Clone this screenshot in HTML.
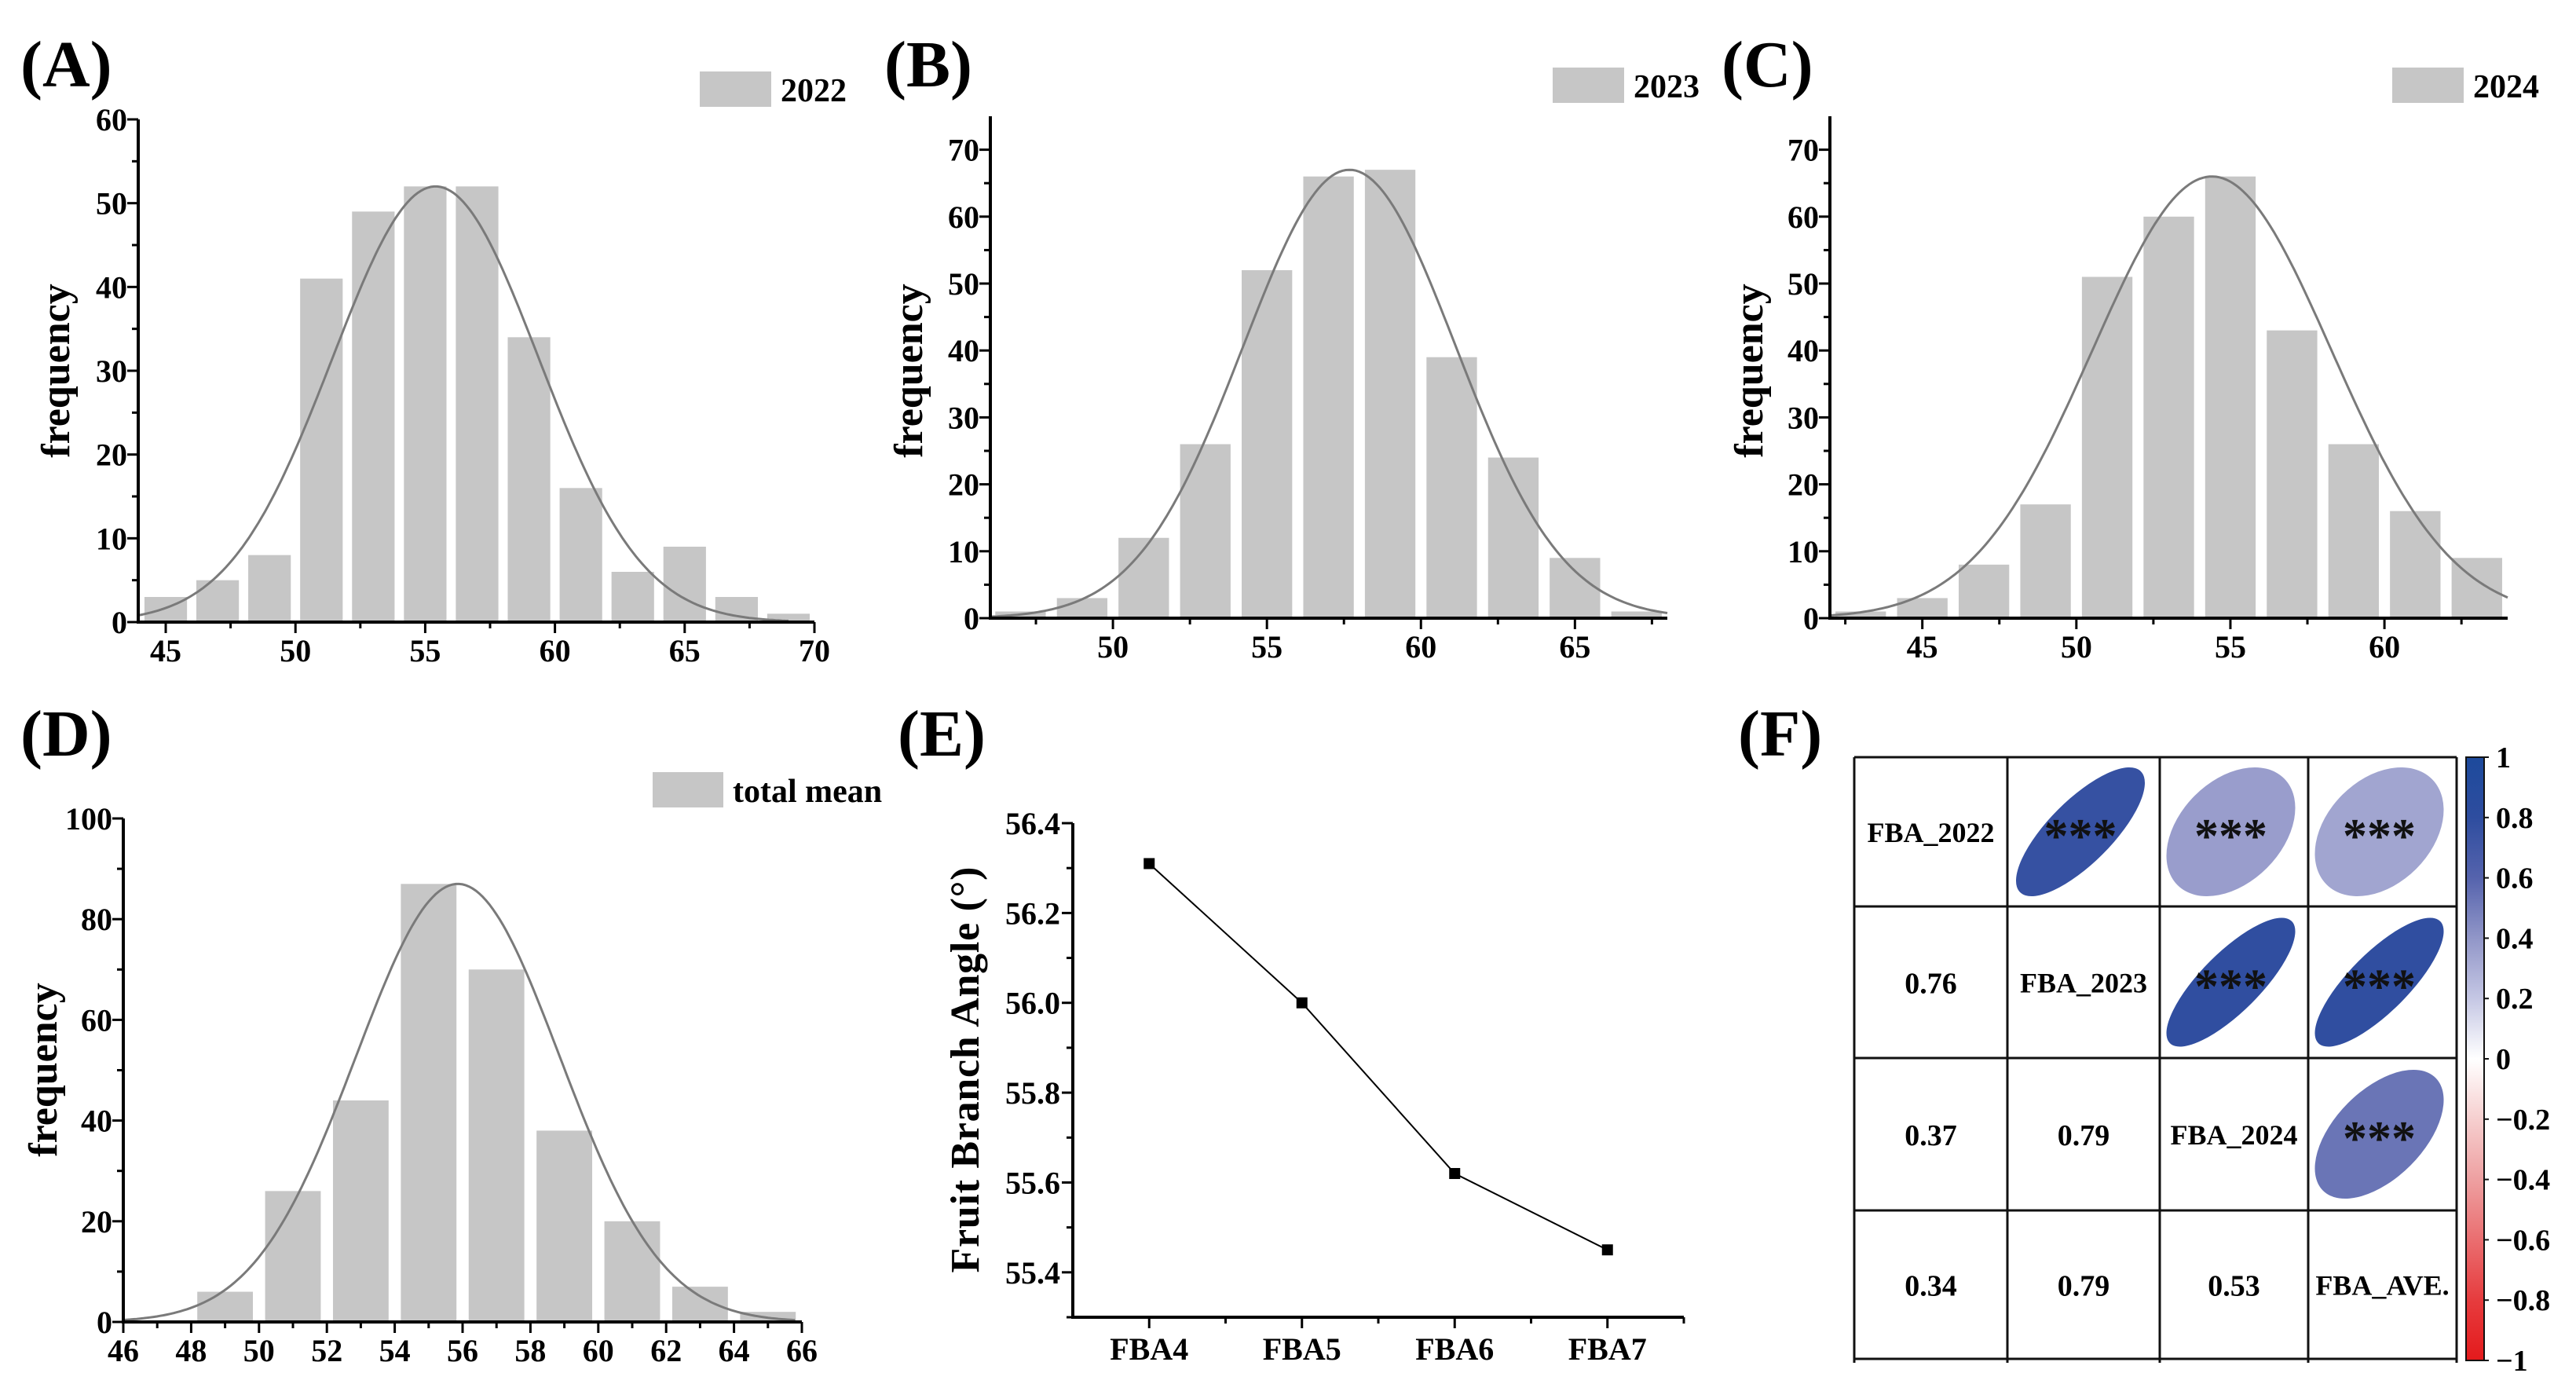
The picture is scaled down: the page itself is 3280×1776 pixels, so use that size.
<!DOCTYPE html>
<html><head><meta charset="utf-8">
<style>
html,body{margin:0;padding:0;background:#fff;}
svg{display:block;font-family:"Liberation Serif",serif;font-weight:bold;}
</style></head>
<body>
<svg id="fig" width="3280" height="1776" viewBox="0 0 3280 1776" xmlns="http://www.w3.org/2000/svg">
<rect x="0" y="0" width="3280" height="1776" fill="#fff"/>
</svg>
<script>
// ---- Panel A data ----
const aCenters = [45,47,49,51,53,55,57,59,61,63,65,67,69];
const aCounts  = [3,5,8,41,49,52,52,34,16,6,9,3,1];
const aXTicks  = [45,50,55,60,65,70];
const aYTicks  = [0,10,20,30,40,50,60];
const aFit     = [55.4, 3.97, 52]; // mean, sd, peak
// ---- Panel B data ----
const bCenters = [47,49,51,53,55,57,59,61,63,65,67];
const bCounts  = [1,3,12,26,52,66,67,39,24,9,1];
const bXTicks  = [50,55,60,65];
const bYTicks  = [0,10,20,30,40,50,60,70];
const bFit     = [57.68, 3.45, 67];
// ---- Panel C data ----
const cCenters = [43,45,47,49,51,53,55,57,59,61,63];
const cCounts  = [1,3,8,17,51,60,66,43,26,16,9];
const cXTicks  = [45,50,55,60];
const cYTicks  = [0,10,20,30,40,50,60,70];
const cFit     = [54.4, 3.88, 66];
// ---- Panel D data ----
const dCenters = [49,51,53,55,57,59,61,63,65];
const dCounts  = [6,26,44,87,70,38,20,7,2];
const dXTicks  = [46,48,50,52,54,56,58,60,62,64,66];
const dYTicks  = [0,20,40,60,80,100];
const dFit     = [55.86, 3.0, 87];
// ---- Panel E data ----
const eCategories = ["FBA4","FBA5","FBA6","FBA7"];
const eValues     = [56.31,56.00,55.62,55.45];
const eYTicks     = [55.4,55.6,55.8,56.0,56.2,56.4];
// ---- Panel F data ----
const fLabels = ["FBA_2022","FBA_2023","FBA_2024","FBA_AVE."];
const fCorrRow0 = [1,0.76,0.37,0.34];
const fCorrRow1 = [0.76,1,0.79,0.79];
const fCorrRow2 = [0.37,0.79,1,0.53];
const fCorrRow3 = [0.34,0.79,0.53,1];
const fBarTicks = [1,0.8,0.6,0.4,0.2,0,-0.2,-0.4,-0.6,-0.8,-1];

const NS="http://www.w3.org/2000/svg";
const svg=document.getElementById('fig');
function mk(tag,attrs,parent,text){
  const e=document.createElementNS(NS,tag);
  for(const k in attrs) e.setAttribute(k,attrs[k]);
  if(text!==undefined) e.textContent=text;
  (parent||svg).appendChild(e);return e;
}
function grp(name){const g=mk('g',{});
  
  
  return g;}

function panelLabel(txt,x,y,name){
  const t=mk('text',{x:x,y:y,'font-size':84},svg,txt);
  
  
}

function hist(cfg){
  const g=grp(cfg.name);
  const sx=v=>cfg.x0+(v-cfg.xmin)/(cfg.xmax-cfg.xmin)*(cfg.x1-cfg.x0);
  const sy=v=>cfg.y0-(v-cfg.ymin)/(cfg.ymax-cfg.ymin)*(cfg.y0-cfg.y1);
  const bw=(sx(cfg.centers[1])-sx(cfg.centers[0]))*0.82;
  cfg.centers.forEach((c,i)=>{
    const r=mk('rect',{x:sx(c)-bw/2,y:sy(cfg.counts[i]),width:bw,height:sy(0)-sy(cfg.counts[i]),fill:'#c6c6c6'},g);
    
    
  });
  let d='';const n=200;
  for(let i=0;i<=n;i++){
    const v=cfg.xmin+(cfg.curveEnd-cfg.xmin)*i/n;
    const f=cfg.fit[2]*Math.exp(-0.5*Math.pow((v-cfg.fit[0])/cfg.fit[1],2));
    d+=(i?'L':'M')+sx(v).toFixed(1)+','+sy(f).toFixed(1);
  }
  const p=mk('path',{d:d,fill:'none',stroke:'#7a7a7a','stroke-width':3},g);
  
  
  const ax=mk('path',{d:`M${cfg.x0},${cfg.y1}V${cfg.y0}H${cfg.x1}`,fill:'none',stroke:'#000','stroke-width':4},g);
  
  
  cfg.yTicks.forEach(v=>{
    mk('line',{x1:cfg.x0,x2:cfg.x0-14,y1:sy(v),y2:sy(v),stroke:'#000','stroke-width':3},g);
    const t=mk('text',{x:cfg.x0-14,y:sy(v)+14,'font-size':40,'text-anchor':'end'},g,String(v));
    
    
  });
  for(let v=cfg.ymin+cfg.yMinor;v<cfg.ymax;v+=cfg.yMinor*2){
    mk('line',{x1:cfg.x0,x2:cfg.x0-8,y1:sy(v),y2:sy(v),stroke:'#000','stroke-width':3},g);
  }
  cfg.xTicks.forEach(v=>{
    mk('line',{x1:sx(v),x2:sx(v),y1:cfg.y0,y2:cfg.y0+14,stroke:'#000','stroke-width':3},g);
    const t=mk('text',{x:sx(v),y:cfg.y0+50,'font-size':40,'text-anchor':'middle'},g,String(v));
    
    
  });
  for(let k=0;k<cfg.xTicks.length+1;k++){
    const v=cfg.xTicks[0]-cfg.xMinor+k*cfg.xMinor*2;
    if(v>cfg.xmin && v<cfg.xmax) mk('line',{x1:sx(v),x2:sx(v),y1:cfg.y0,y2:cfg.y0+8,stroke:'#000','stroke-width':3},g);
  }
  const yl=mk('text',{x:0,y:0,'font-size':52,'text-anchor':'middle',transform:`translate(${cfg.ylx},${cfg.yly}) rotate(-90)`},g,'frequency');
  
  
  const lr=mk('rect',{x:cfg.lx,y:cfg.ly,width:cfg.lw,height:45,fill:'#c6c6c6'},g);
  
  
  const lt=mk('text',{x:cfg.lx+cfg.lw+12,y:cfg.ly+38,'font-size':42},g,cfg.legend);
  
  
}

panelLabel('(A)',26,110,'panel-label-a');
panelLabel('(B)',1126,110,'panel-label-b');
panelLabel('(C)',2192,110,'panel-label-c');
panelLabel('(D)',26,962,'panel-label-d');
panelLabel('(E)',1143,962,'panel-label-e');
panelLabel('(F)',2213,962,'panel-label-f');

hist({name:'panel-a-histogram',centers:aCenters,counts:aCounts,xTicks:aXTicks,yTicks:aYTicks,fit:aFit,
  x0:176,x1:1037,xmin:43.94,xmax:70,y0:792,y1:152,ymin:0,ymax:60,yMinor:5,xMinor:2.5,curveEnd:69,
  ylx:88,yly:472,lx:891,ly:91,lw:91,legend:'2022'});
hist({name:'panel-b-histogram',centers:bCenters,counts:bCounts,xTicks:bXTicks,yTicks:bYTicks,fit:bFit,
  x0:1261,x1:2123,xmin:46.02,xmax:68,y0:787,y1:148,ymin:0,ymax:75,yMinor:5,xMinor:2.5,curveEnd:68,
  ylx:1174,yly:472,lx:1977,ly:86,lw:91,legend:'2023'});
hist({name:'panel-c-histogram',centers:cCenters,counts:cCounts,xTicks:cXTicks,yTicks:cYTicks,fit:cFit,
  x0:2330,x1:3193,xmin:42.0,xmax:64,y0:787,y1:148,ymin:0,ymax:75,yMinor:5,xMinor:2.5,curveEnd:64,
  ylx:2244,yly:472,lx:3046,ly:86,lw:91,legend:'2024'});
hist({name:'panel-d-histogram',centers:dCenters,counts:dCounts,xTicks:dXTicks,yTicks:dYTicks,fit:dFit,
  x0:157,x1:1021,xmin:46,xmax:66,y0:1683,y1:1042,ymin:0,ymax:100,yMinor:10,xMinor:1,curveEnd:65.8,
  ylx:72,yly:1362,lx:831,ly:983,lw:90,legend:'total mean'});

// ---- Panel E ----
(function(){
  const g=grp('panel-e-line-chart');
  const x0=1366,x1=2144,y0=1677,y1=1048,ymin=55.3,ymax=56.4;
  const sx=i=>x0+(i+0.5)/eCategories.length*(x1-x0);
  const sy=v=>y0-(v-ymin)/(ymax-ymin)*(y0-y1);
  let d='';
  eValues.forEach((v,i)=>{d+=(i?'L':'M')+sx(i)+','+sy(v);});
  const l=mk('path',{d:d,fill:'none',stroke:'#000','stroke-width':2},g);
  
  
  eValues.forEach((v,i)=>{
    const m=mk('rect',{x:sx(i)-7,y:sy(v)-7,width:14,height:14,fill:'#000'},g);
    
    
  });
  const ax=mk('path',{d:`M${x0},${y1}V${y0}H${x1}`,fill:'none',stroke:'#000','stroke-width':4},g);
  
  
  eYTicks.forEach(v=>{
    mk('line',{x1:x0,x2:x0-14,y1:sy(v),y2:sy(v),stroke:'#000','stroke-width':3},g);
    mk('line',{x1:x0,x2:x0-8,y1:sy(v-0.1),y2:sy(v-0.1),stroke:'#000','stroke-width':3},g);
    const t=mk('text',{x:x0-16,y:sy(v)+14,'font-size':40,'text-anchor':'end'},g,v.toFixed(1));
    
    
  });
  eCategories.forEach((c,i)=>{
    mk('line',{x1:sx(i),x2:sx(i),y1:y0,y2:y0+14,stroke:'#000','stroke-width':3},g);
    mk('line',{x1:sx(i)+(x1-x0)/8,x2:sx(i)+(x1-x0)/8,y1:y0,y2:y0+8,stroke:'#000','stroke-width':3},g);
    const t=mk('text',{x:sx(i),y:y0+54,'font-size':40,'text-anchor':'middle'},g,c);
    
    
  });
  const yl=mk('text',{x:0,y:0,'font-size':52,'text-anchor':'middle',textLength:517,transform:'translate(1246,1362) rotate(-90)'},g,'Fruit Branch Angle (°)');
  
  
})();

// ---- Panel F ----
(function(){
  const g=grp('panel-f-correlation-matrix');
  const cols=[2361,2556,2750,2939,3128];
  const rows=[964,1154,1347,1541,1730];
  const mat=[fCorrRow0,fCorrRow1,fCorrRow2,fCorrRow3];
  const posStops=[[0,[255,255,255]],[0.2,[197,199,228]],[0.4,[145,150,200]],[0.6,[85,99,173]],[0.8,[46,77,159]],[1,[29,74,156]]];
  const negStops=[[0,[255,255,255]],[0.2,[246,207,207]],[0.4,[238,160,161]],[0.6,[234,110,112]],[0.8,[230,60,62]],[1,[228,26,28]]];
  function col(r){
    const st=r>=0?posStops:negStops, t=Math.abs(r);
    for(let k=1;k<st.length;k++){
      if(t<=st[k][0]){
        const f=(t-st[k-1][0])/(st[k][0]-st[k-1][0]);
        const c=st[k-1][1].map((v,q)=>Math.round(v+(st[k][1][q]-v)*f));
        return `rgb(${c[0]},${c[1]},${c[2]})`;
      }
    }
    const c=st[st.length-1][1];return `rgb(${c[0]},${c[1]},${c[2]})`;
  }
  for(let i=0;i<4;i++)for(let j=0;j<4;j++){
    const cx=(cols[j]+cols[j+1])/2, cy=(rows[i]+rows[i+1])/2, r=mat[i][j];
    if(i===j){
      const t=mk('text',{x:cx,y:cy+13,'font-size':36,'text-anchor':'middle'},g,fLabels[i]);
      
      
    } else if(i>j){
      const t=mk('text',{x:cx,y:cy+14,'font-size':38,'text-anchor':'middle'},g,r.toFixed(2));
      
      
    } else {
      const half=82;
      const ratio=Math.sqrt((1-r)/(1+r));
      const rx=Math.sqrt(2*half*half/(1+ratio*ratio)), ry=rx*ratio;
      const e=mk('ellipse',{cx:cx-4,cy:cy,rx:rx,ry:ry,fill:col(r),transform:`rotate(-45 ${cx-4} ${cy})`},g);
      
      
      const t=mk('text',{x:cx-4,y:cy+26,'font-size':62,'text-anchor':'middle','font-weight':'bold',fill:'#111'},g,'***');
      
      
    }
  }
  cols.forEach(x=>mk('line',{x1:x,x2:x,y1:rows[0],y2:rows[4]+5,stroke:'#111','stroke-width':3},g));
  rows.forEach(y=>mk('line',{x1:cols[0],x2:cols[4],y1:y,y2:y,stroke:'#111','stroke-width':3},g));
  const defs=mk('defs',{},svg);
  const lg=mk('linearGradient',{id:'cbar',x1:0,y1:0,x2:0,y2:1},defs);
  [[0,'#1d4a9c'],[0.1,'#2e4d9f'],[0.2,'#5563ad'],[0.3,'#9196c8'],[0.4,'#c5c7e4'],[0.5,'#ffffff'],[0.6,'#f6cfcf'],[0.7,'#eea0a1'],[0.8,'#ea6e70'],[0.9,'#e63c3e'],[1,'#e41a1c']].forEach(s=>mk('stop',{offset:s[0],'stop-color':s[1]},lg));
  const bx=3140,bw=23,by0=964,by1=1732;
  const cb=mk('rect',{x:bx,y:by0,width:bw,height:by1-by0,fill:'url(#cbar)',stroke:'#111','stroke-width':2},g);
  
  
  fBarTicks.forEach(v=>{
    const y=by0+(1-v)/2*(by1-by0);
    mk('line',{x1:bx+bw,x2:bx+bw+6,y1:y,y2:y,stroke:'#111','stroke-width':2},g);
    const t=mk('text',{x:bx+38,y:y+13,'font-size':38},g,v<0?'\u2212'+Math.abs(v):String(v));
    
    
  });
})();
</script>
</body></html>
